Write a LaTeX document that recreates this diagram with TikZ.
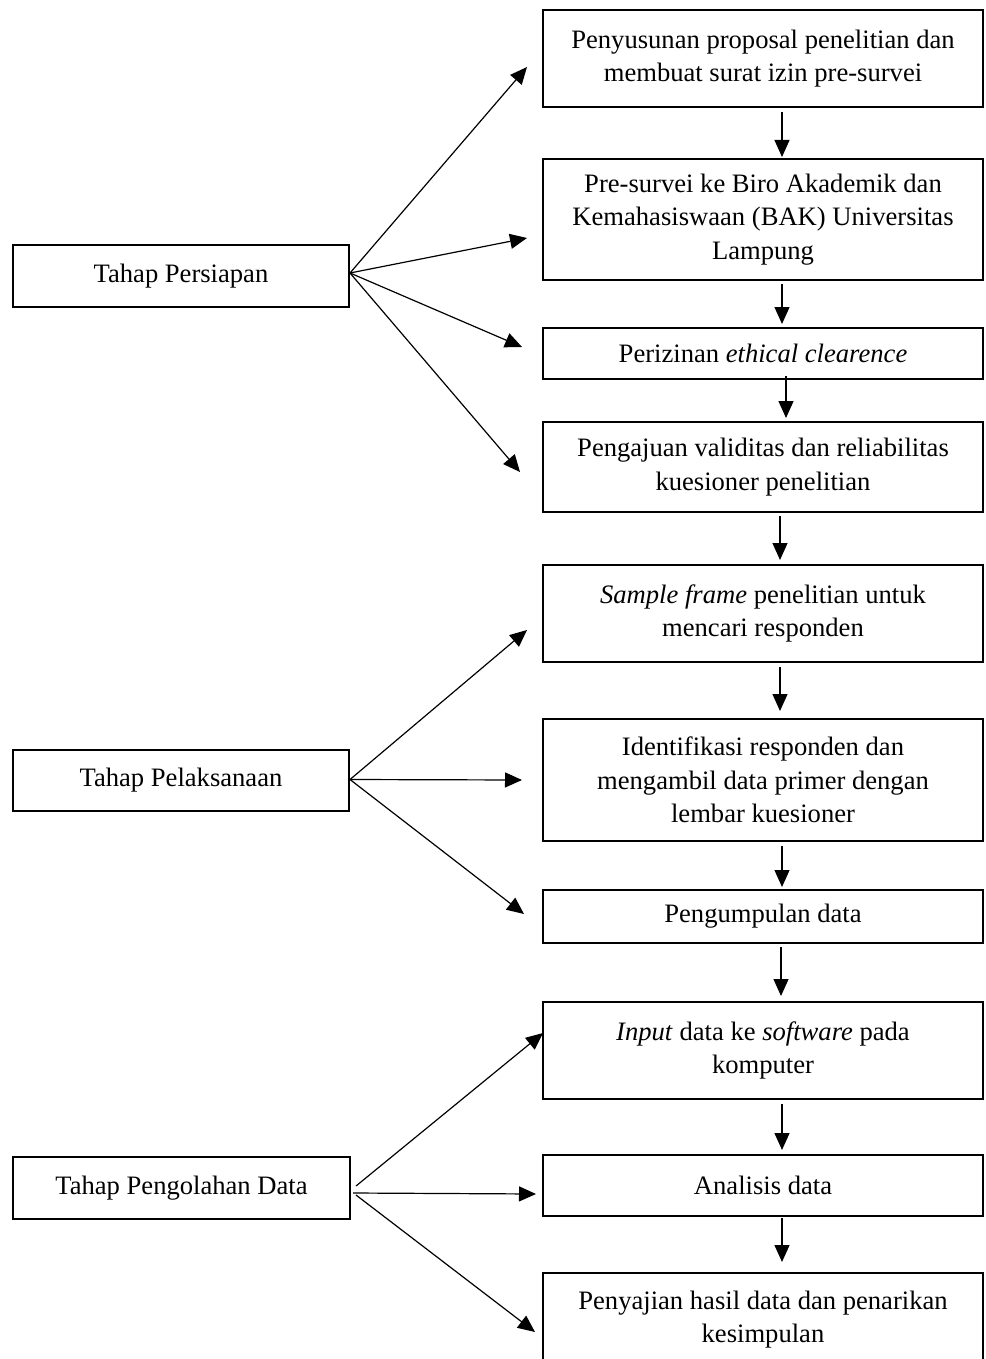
\documentclass[tikz,border=0pt]{standalone}
\usepackage{fontspec}
\setmainfont{Liberation Serif}
\usetikzlibrary{arrows.meta,calc}
\begin{document}
\begin{tikzpicture}[x=1pt,y=-1pt,
  box/.style={draw, line width=2.4pt, rectangle, inner sep=0pt, outer sep=0pt,
    align=center, font=\fontsize{26.6}{33.5}\selectfont},
  rbox/.style={box, minimum width=440pt},
  lbox/.style={box, minimum width=336pt},
  arr/.style={line width=1.2pt, -{Triangle[length=17pt,width=15pt]}}]
\useasboundingbox (0,0) rectangle (985,1359);
\fill[white] (0,0) rectangle (985,1359);
\clip (0,0) rectangle (985,1359);

% right column
\node[rbox, minimum height=97pt]  (b1)  at (763,58.5)  {Penyusunan proposal penelitian dan\\membuat surat izin pre-survei};
\node[rbox, minimum height=121pt] (b2)  at (763,219.5) {Pre-survei ke Biro Akademik dan\\Kemahasiswaan (BAK) Universitas\\Lampung};
\node[rbox, minimum height=51pt]  (b3)  at (763,353.5) {Perizinan \textit{ethical clearence}};
\node[rbox, minimum height=90pt]  (b4)  at (763,467)   {Pengajuan validitas dan reliabilitas\\kuesioner penelitian};
\node[rbox, minimum height=97pt]  (b5)  at (763,613.5) {\textit{Sample frame} penelitian untuk\\mencari responden};
\node[rbox, minimum height=122pt] (b6)  at (763,780)   {Identifikasi responden dan\\mengambil data primer dengan\\lembar kuesioner};
\node[rbox, minimum height=53pt]  (b7)  at (763,916.5) {Pengumpulan data};
\node[rbox, minimum height=97pt]  (b8)  at (763,1050.5) {\textit{Input} data ke \textit{software} pada\\komputer};
\node[rbox, minimum height=61pt]  (b9)  at (763,1185.5) {Analisis data};
\node[rbox, minimum height=93pt]  (b10) at (763,1319.5) {Penyajian hasil data dan penarikan\\kesimpulan};

% left column
\node[lbox, minimum height=62pt] (p1) at (181,276)    {Tahap Persiapan};
\node[lbox, minimum height=61pt] (p2) at (181,780.5)  {Tahap Pelaksanaan};
\node[lbox, minimum height=62pt, minimum width=337pt] (p3) at (181.5,1188) {Tahap Pengolahan Data};

% vertical arrows
\draw[arr] ($(b1.south)+(19,5)$) -- ($(b2.north)+(19,-2)$);
\draw[arr] ($(b2.south)+(19,4)$) -- ($(b3.north)+(19,-4)$);
\draw[arr] ($(b3.south)+(23,-3)$) -- ($(b4.north)+(23,-4)$);
\draw[arr] ($(b4.south)+(17,4)$) -- ($(b5.north)+(17,-5)$);
\draw[arr] ($(b5.south)+(17,5)$) -- ($(b6.north)+(17,-8)$);
\draw[arr] ($(b6.south)+(19,5)$) -- ($(b7.north)+(19,-3)$);
\draw[arr] ($(b7.south)+(18,4)$) -- ($(b8.north)+(18,-6)$);
\draw[arr] ($(b8.south)+(19,5)$) -- ($(b9.north)+(19,-5)$);
\draw[arr] ($(b9.south)+(19,2)$) -- ($(b10.north)+(19,-11)$);

% group 1
\draw[arr] ($(p1.east)+(1,-3)$) -- ($(b1.west)+(-16,8.5)$);
\draw[arr] ($(p1.east)+(1,-3)$) -- ($(b2.west)+(-16,18.5)$);
\draw[arr] ($(p1.east)+(1,-3)$) -- ($(b3.west)+(-21,-6.5)$);
\draw[arr] ($(p1.east)+(1,-3)$) -- ($(b4.west)+(-23,5)$);

% group 2
\draw[arr] ($(p2.east)+(1,-1)$) -- ($(b5.west)+(-16,16.5)$);
\draw[arr] ($(p2.east)+(1,-1)$) -- ($(b6.west)+(-21,0)$);
\draw[arr] ($(p2.east)+(1,-1)$) -- ($(b7.west)+(-19,-2.5)$);

% group 3
\draw[arr] ($(p3.east)+(6,-2)$) -- ($(b8.west)+(0,-17.5)$);
\draw[arr] ($(p3.east)+(3,5)$)  -- ($(b9.west)+(-7,8.5)$);
\draw[arr] ($(p3.east)+(6,7)$)  -- ($(b10.west)+(-8,12.5)$);
\end{tikzpicture}
\end{document}
